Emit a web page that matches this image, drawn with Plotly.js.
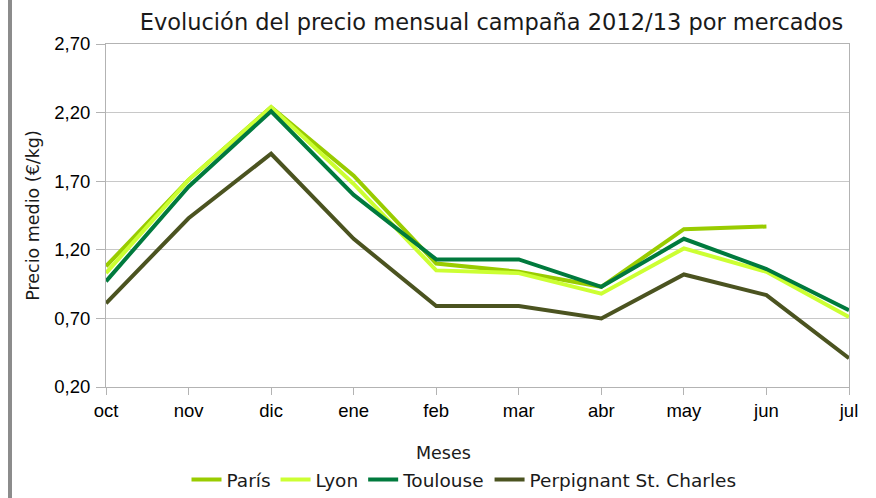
<!DOCTYPE html>
<html><head><meta charset="utf-8">
<script src="https://cdn.plot.ly/plotly-3.0.1.min.js"></script>
<style>html,body{margin:0;padding:0;background:#fff}#c{width:876px;height:498px}</style>
</head><body><div id="c"></div>
<script>
const months = ["oct","nov","dic","ene","feb","mar","abr","may","jun","jul"];
const paris = [1.08,1.71,2.24,1.74,1.10,1.04,0.93,1.35,1.37,null];
const lyon = [1.03,1.71,2.24,1.68,1.05,1.03,0.88,1.21,1.04,0.71];
const toulouse = [0.97,1.66,2.21,1.60,1.13,1.13,0.93,1.28,1.06,0.76];
const perpignan = [0.81,1.43,1.90,1.28,0.79,0.79,0.70,1.02,0.87,0.41];
const names = ["París","Lyon","Toulouse","Perpignant St. Charles"];
const colors = ["#99cc00","#ccff33","#007a3d","#4b5320"];
const series = [paris,lyon,toulouse,perpignan];
const traces = series.map((s,i)=>({x:months,y:s,name:names[i],type:"scatter",mode:"lines",
  line:{color:colors[i],width:4},connectgaps:false}));
const W=876, L=106, R=27, T=44, B=111;
const pw = W-L-R, ph = 498-T-B;
const layout = {
  width:876,height:498,
  margin:{l:L,r:R,t:T,b:B},
  paper_bgcolor:"#fff",plot_bgcolor:"#fff",
  separators:", ",
  font:{family:"Liberation Sans, Arial, sans-serif",color:"#000"},
  title:{text:"Evolución del precio mensual campaña 2012/13 por mercados",
    font:{family:"DejaVu Sans",size:22.5,color:"#1a1a1a"},xref:"container",x:491.5/876,xanchor:"center",
    yref:"container",y:1-22/498,yanchor:"middle"},
  xaxis:{type:"category",range:[0,9],showgrid:false,showline:true,linecolor:"#b3b3b3",linewidth:1,
    mirror:true,ticks:"outside",ticklen:7,tickcolor:"#b3b3b3",tickfont:{size:18.5}},
  yaxis:{range:[0.2,2.7],tickvals:[0.2,0.7,1.2,1.7,2.2,2.7],tickformat:".2f",
    showgrid:true,gridcolor:"#c8c8c8",gridwidth:1,showline:true,linecolor:"#b3b3b3",mirror:true,
    ticks:"outside",ticklen:9,tickcolor:"#b3b3b3",tickfont:{size:18.5},zeroline:false,ticklabelstandoff:2,
    title:{text:"Precio medio (€/kg)",font:{family:"DejaVu Sans",size:17.5,color:"#1a1a1a"},standoff:10}},
  legend:{orientation:"h",xref:"container",x:464/876,xanchor:"center",yref:"container",y:1-480/498,yanchor:"middle",
    font:{family:"DejaVu Sans",size:18.5,color:"#1a1a1a"},itemwidth:30,tracegroupgap:0},
  showlegend:true,
  annotations:[{text:"Meses",xref:"paper",yref:"paper",x:(443-L)/pw,y:-(453-T-ph)/ph,
    xanchor:"center",yanchor:"middle",showarrow:false,font:{family:"DejaVu Sans",size:17.5,color:"#1a1a1a"}}],
  shapes:[{type:"rect",xref:"paper",yref:"paper",x0:(8-L)/pw,x1:(12-L)/pw,y0:-B/ph,y1:(ph+T)/ph,
    fillcolor:"#8c8c8c",line:{width:0}}]
};
Plotly.newPlot("c",traces,layout,{displayModeBar:false});
</script></body></html>
